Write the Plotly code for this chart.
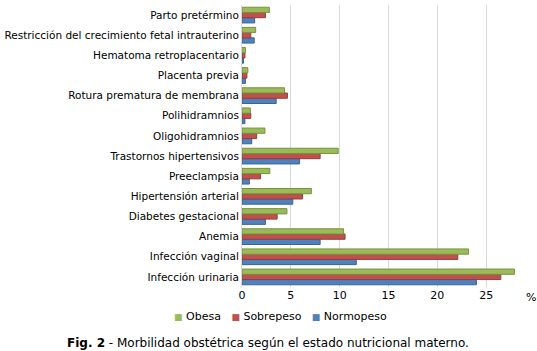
import plotly.graph_objects as go

categories = [
    "Parto pretérmino",
    "Restricción del crecimiento fetal intrauterino",
    "Hematoma retroplacentario",
    "Placenta previa",
    "Rotura prematura de membrana",
    "Polihidramnios",
    "Oligohidramnios",
    "Trastornos hipertensivos",
    "Preeclampsia",
    "Hipertensión arterial",
    "Diabetes gestacional",
    "Anemia",
    "Infección vaginal",
    "Infección urinaria",
]
obesa = [2.8, 1.4, 0.35, 0.6, 4.35, 0.85, 2.35, 9.85, 2.85, 7.1, 4.6, 10.4, 23.2, 27.9]
sobrepeso = [2.4, 0.9, 0.3, 0.5, 4.65, 0.9, 1.5, 8.0, 1.9, 6.2, 3.6, 10.55, 22.1, 26.5]
normopeso = [1.3, 1.25, 0.15, 0.35, 3.5, 0.3, 1.0, 5.9, 0.75, 5.2, 2.4, 8.0, 11.7, 24.0]
x_ticks = [0, 5, 10, 15, 20, 25]

FONT = "Verdana, DejaVu Sans, sans-serif"

fig = go.Figure()
series = [
    ("Normopeso", normopeso, "#4F81BD", "#3A6494"),
    ("Sobrepeso", sobrepeso, "#C0504D", "#963D3A"),
    ("Obesa", obesa, "#9BBB59", "#76923F"),
]
for name, vals, col, edge in series:
    fig.add_trace(go.Bar(
        y=categories, x=vals, name=name, orientation="h",
        marker=dict(color=col, line=dict(color=edge, width=1)),
    ))

fig.update_layout(
    width=537, height=351,
    margin=dict(l=242, r=2, t=5, b=64),
    paper_bgcolor="white", plot_bgcolor="white",
    barmode="group", bargap=0.22, bargroupgap=0,
    font=dict(family=FONT, size=11, color="#000000"),
    showlegend=False,
    xaxis=dict(range=[0, 30], tickvals=x_ticks, showgrid=True, gridcolor="#D9D9D9",
               gridwidth=1, zeroline=False, showline=False, ticks="",
               tickfont=dict(size=11), fixedrange=True),
    yaxis=dict(categoryorder="array", categoryarray=categories[::-1], showgrid=False,
               showline=True, linecolor="#D9D9D9", ticks="", ticklen=0,
               tickfont=dict(size=10.5), fixedrange=True),
)
fig.add_annotation(text="%", x=0.986, xref="paper", xanchor="center", y=-0.039, yref="paper",
                   yanchor="middle", showarrow=False, font=dict(size=11))

# compact legend built from trace names/colours
legend_parts = []
for name, vals, col, edge in series[::-1]:
    legend_parts.append(f"<span style='color:{col};font-size:9px'>■</span> {name}")
fig.add_annotation(text="&nbsp;&nbsp;&nbsp;".join(legend_parts), x=0.13, xref="paper",
                   xanchor="center", y=-0.106, yref="paper", yanchor="middle",
                   showarrow=False, font=dict(size=11))

fig.add_annotation(text="<b>Fig. 2</b> - Morbilidad obstétrica según el estado nutricional materno.",
                   x=0.0887, xref="paper", xanchor="center", y=-0.2, yref="paper",
                   yanchor="middle", showarrow=False, font=dict(size=12))
fig.write_html("out.html")
